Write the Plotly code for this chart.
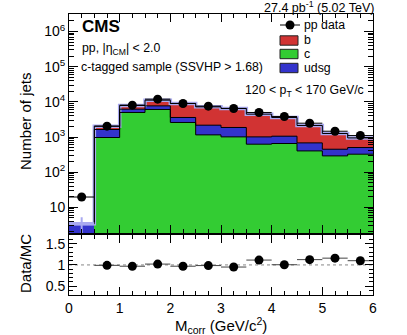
import plotly.graph_objects as go

# ---------------- data ----------------
bin_centers = [0.25, 0.75, 1.25, 1.75, 2.25, 2.75, 3.25, 3.75, 4.25, 4.75, 5.25, 5.75]
bin_edges = [0.0, 0.5, 1.0, 1.5, 2.0, 2.5, 3.0, 3.5, 4.0, 4.5, 5.0, 5.5, 6.0]
pp_data = [19.6, 2030, 8060, 11950, 9000, 7540, 6490, 4990, 3840, 2470, 1460, 1100]
c_jets = [0, 968, 4990, 6070, 2590, 1150, 1008, 624, 653, 402, 290, 324]
udsg_jets = [3.4, 668, 1205, 1620, 1005, 1020, 858, 384, 401, 278, 159, 178]
b_jets = [0, 397, 1695, 3480, 5405, 5040, 4624, 3458, 2541, 1448, 810, 441]
ratio_centers = [0.75, 1.25, 1.75, 2.25, 2.75, 3.25, 3.75, 4.25, 4.75, 5.25, 5.75]
ratio_vals = [0.99, 0.97, 1.02, 0.97, 0.985, 0.95, 1.115, 1.005, 1.125, 1.16, 1.10]
mc_err_first = [3.4, 1.8, 3.4]  # value, err up, err down for first bin MC band

x_tickvals = [0, 1, 2, 3, 4, 5, 6]
y_tickvals = [10, 100, 1e3, 1e4, 1e5, 1e6]
y_ticktext = ["10", "10<sup>2</sup>", "10<sup>3</sup>", "10<sup>4</sup>", "10<sup>5</sup>", "10<sup>6</sup>"]

RED = "#d13333"
GREEN = "#33cc33"
BLUE = "#3333cc"
LAV = "#a9a9f0"
FONT = "Liberation Sans, Arial, Helvetica, sans-serif"

fig = go.Figure()

# stacked histograms (bottom -> top)
for vals, col, name in [(c_jets, GREEN, "c"), (udsg_jets, BLUE, "udsg"), (b_jets, RED, "b")]:
    fig.add_trace(go.Bar(x=bin_centers, y=vals, width=0.5, marker=dict(color=col, line=dict(width=0)),
                         name=name, showlegend=False, xaxis="x", yaxis="y"))

# step outlines of cumulative stacks
cum1 = [c for c in c_jets]
cum2 = [c + u for c, u in zip(c_jets, udsg_jets)]
cum3 = [c + u + b for c, u, b in zip(c_jets, udsg_jets, b_jets)]


def step(vals, start=0):
    xs = bin_edges[start:-1] + [bin_edges[-1]]
    ys = vals[start:] + [vals[-1]]
    return xs, ys


xs, ys = step(cum3)
fig.add_trace(go.Scatter(x=xs, y=ys, mode="lines", line=dict(shape="hv", color=LAV, width=3.5),
                         showlegend=False, hoverinfo="skip", xaxis="x", yaxis="y"))
for cum, st in [(cum1, 1), (cum2, 0), (cum3, 0)]:
    xs, ys = step(cum, st)
    fig.add_trace(go.Scatter(x=xs, y=ys, mode="lines", line=dict(shape="hv", color="black", width=1),
                             showlegend=False, hoverinfo="skip", xaxis="x", yaxis="y"))

# MC uncertainty in first bin
fig.add_trace(go.Scatter(x=[bin_centers[0]], y=[mc_err_first[0]], mode="markers",
                         marker=dict(size=1, color=LAV),
                         error_y=dict(type="data", symmetric=False, array=[mc_err_first[1]],
                                      arrayminus=[mc_err_first[2] * 0.999], color=LAV, thickness=2, width=0),
                         error_x=dict(type="constant", value=0.25, color=LAV, thickness=3, width=0),
                         showlegend=False, hoverinfo="skip", xaxis="x", yaxis="y"))

# data points
fig.add_trace(go.Scatter(x=bin_centers, y=pp_data, mode="markers",
                         marker=dict(size=9, color="black"),
                         error_x=dict(type="constant", value=0.25, color="black", thickness=1, width=0),
                         showlegend=False, xaxis="x", yaxis="y"))

# ratio panel
fig.add_trace(go.Scatter(x=[0, 6], y=[1, 1], mode="lines", line=dict(color="#888888", width=1, dash="dot"),
                         showlegend=False, hoverinfo="skip", xaxis="x2", yaxis="y2"))
fig.add_trace(go.Scatter(x=ratio_centers, y=ratio_vals, mode="markers",
                         marker=dict(size=9, color="black"),
                         error_x=dict(type="constant", value=0.25, color="#444444", thickness=1, width=0),
                         showlegend=False, xaxis="x2", yaxis="y2"))

minor_log = [m * 10 ** k for k in range(0, 7) for m in range(2, 10)]

axis_common = dict(showline=True, linecolor="black", linewidth=1, mirror="allticks", ticks="inside",
                   tickcolor="black", showgrid=False, zeroline=False, automargin=False,
                   tickfont=dict(family=FONT, size=14, color="black"))

fig.update_layout(
    width=407, height=335,
    margin=dict(l=69, r=34, t=14, b=40),
    paper_bgcolor="white", plot_bgcolor="white",
    barmode="stack", bargap=0,
    showlegend=False,
    font=dict(family=FONT, color="black"),
    xaxis=dict(domain=[0, 1], range=[0, 6], anchor="y", showticklabels=False, dtick=1, tick0=0, ticklen=8,
               minor=dict(ticks="inside", ticklen=4, dtick=0.25, tick0=0, tickcolor="black"), **axis_common),
    yaxis=dict(domain=[0.2196, 1], type="log", range=[0.26, 6.5], anchor="x", tickmode="array",
               tickvals=y_tickvals, ticktext=y_ticktext, ticklen=9,
               minor=dict(ticks="inside", ticklen=5, tickmode="array", tickvals=minor_log, tickcolor="black"),
               **axis_common),
    xaxis2=dict(domain=[0, 1], range=[0, 6], anchor="y2", matches="x", tickmode="array", tickvals=x_tickvals,
                ticklen=8, minor=dict(ticks="inside", ticklen=4, dtick=0.25, tick0=0, tickcolor="black"),
                **axis_common),
    yaxis2=dict(domain=[0, 0.214], range=[0.29, 1.71], anchor="x2", tickmode="array",
                tickvals=[0.5, 1, 1.5], ticktext=["0.5", "1", "1.5"], ticklen=8,
                minor=dict(ticks="inside", ticklen=4, dtick=0.1, tick0=0, tickcolor="black"),
                **axis_common),
)

# pixel -> paper conversion helpers (plot area 69..373 x 14..295)
PL, PW, PT, PH = 69, 304, 14, 281


def px(xp):
    return (xp - PL) / PW


def py(yp):
    return 1 - (yp - PT) / PH


def ann(text, x, y, size, xanchor="left", angle=0):
    return dict(text=text, x=px(x), y=py(y), xref="paper", yref="paper", xanchor=xanchor, yanchor="middle",
                font=dict(size=size, family=FONT, color="black"), showarrow=False, textangle=angle)


annotations = [
    ann("27.4 pb<sup>-1</sup> (5.02 TeV)", 376, 7, 12.5, xanchor="right"),
    ann("<b>CMS</b>", 80, 27, 17),
    ann("pp, |η<sub>CM</sub>| < 2.0", 80, 49, 12.3),
    ann("c-tagged sample (SSVHP > 1.68)", 79, 67, 12.3),
    ann("120 < p<sub>T</sub> < 170 GeV/c", 366, 91, 12.3, xanchor="right"),
    # axis titles
    ann("Number of jets", 25, 121, 15, xanchor="center", angle=-90),
    ann("Data/MC", 25, 264, 15, xanchor="center", angle=-90),
    ann("M<sub>corr</sub> (GeV/c<sup>2</sup>)", 221, 325, 15, xanchor="center"),
]

# manual legend
shapes = []
shapes.append(dict(type="line", xref="paper", yref="paper", x0=px(280), x1=px(300), y0=py(25), y1=py(25),
                   line=dict(color="black", width=1)))
shapes.append(dict(type="circle", xref="paper", yref="paper", x0=px(285.5), x1=px(294.5), y0=py(29.5), y1=py(20.5),
                   fillcolor="black", line=dict(color="black", width=0)))
annotations.append(ann("pp data", 302, 25, 12.3))
for label, col, yc in [("b", RED, 40.5), ("c", GREEN, 54), ("udsg", BLUE, 68)]:
    shapes.append(dict(type="rect", xref="paper", yref="paper", x0=px(280), x1=px(298), y0=py(yc + 4.7),
                       y1=py(yc - 4.7), fillcolor=col, line=dict(color="#222222", width=1)))
    annotations.append(ann(label, 302, yc, 12.3))

fig.update_layout(annotations=annotations, shapes=shapes)

fig.write_html("out.html", config={"displayModeBar": False},
               post_script="document.body.style.margin='0';document.body.style.overflow='hidden';")
